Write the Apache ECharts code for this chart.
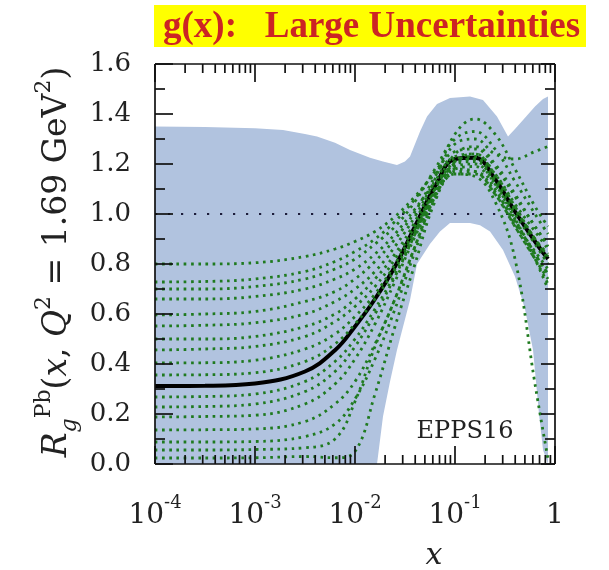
<!DOCTYPE html>
<html>
<head>
<meta charset="utf-8">
<script src="https://cdn.jsdelivr.net/npm/echarts@6/dist/echarts.min.js"></script>
<style>html,body{margin:0;padding:0;background:#fff;}#c{width:609px;height:570px;}</style>
</head>
<body>
<div id="c"></div>
<script>
// ---------- data ----------
const titleText = 'g(x):   Large Uncertainties';
const labelText = 'EPPS16';
const xTickValues = [1e-4, 1e-3, 1e-2, 1e-1, 1];
const xTickBase = ['10', '10', '10', '10', '1'];
const xTickExp = ['-4', '-3', '-2', '-1', ''];
const xMinorTicks = [2e-4,3e-4,4e-4,5e-4,6e-4,7e-4,8e-4,9e-4,
                     2e-3,3e-3,4e-3,5e-3,6e-3,7e-3,8e-3,9e-3,
                     2e-2,3e-2,4e-2,5e-2,6e-2,7e-2,8e-2,9e-2,
                     0.2,0.3,0.4,0.5,0.6,0.7,0.8,0.9];
const yTickValues = [0, 0.2, 0.4, 0.6, 0.8, 1.0, 1.2, 1.4, 1.6];
const yTickLabels = ['0.0','0.2','0.4','0.6','0.8','1.0','1.2','1.4','1.6'];
const yMinorTicks = [0.1, 0.3, 0.5, 0.7, 0.9, 1.1, 1.3, 1.5];

// uncertainty band
const bandUpperX = [1e-4,3.16e-4,1e-3,1.905e-3,3.16e-3,4.17e-3,6.31e-3,8.91e-3,1.413e-2,1.905e-2,2.63e-2,3.16e-2,3.55e-2,4.47e-2,5.25e-2,6.61e-2,8.91e-2,0.1413,0.1905,0.263,0.339,0.398,0.479,0.631,0.759,0.851];
const bandUpperY = [1.350,1.348,1.343,1.336,1.320,1.310,1.285,1.256,1.225,1.210,1.196,1.210,1.230,1.330,1.390,1.440,1.464,1.470,1.456,1.390,1.310,1.340,1.376,1.430,1.460,1.470];
const bandLowerX = [1e-4,1.66e-2,1.905e-2,2.24e-2,2.63e-2,3.55e-2,4.17e-2,5.62e-2,7.08e-2,8.91e-2,0.1413,0.178,0.224,0.302,0.398,0.501,0.603,0.692,0.759,0.851];
const bandLowerY = [0,0,0.19,0.33,0.456,0.656,0.80,0.88,0.93,0.964,0.964,0.955,0.93,0.856,0.75,0.62,0.456,0.20,0.056,0];

// curves sampled at these x
const knotX = [1e-4,3.16e-4,1e-3,3.16e-3,6.31e-3,1e-2,1.585e-2,2.512e-2,3.981e-2,6.31e-2,0.1,0.1585,0.2512,0.3981,0.631,0.851];
const central = [0.312,0.313,0.322,0.370,0.455,0.550,0.660,0.790,0.950,1.110,1.220,1.225,1.140,1.010,0.890,0.820];
const e1  = [0.80,0.80,0.805,0.83,0.86,0.89,0.93,0.99,1.07,1.16,1.22,1.22,1.13,1.00,0.88,0.80];
const e2  = [0.728,0.73,0.74,0.77,0.81,0.85,0.90,0.97,1.06,1.17,1.25,1.26,1.19,1.07,0.95,0.87];
const e3  = [0.70,0.70,0.71,0.74,0.78,0.82,0.88,0.95,1.05,1.18,1.30,1.33,1.26,1.13,1.00,0.92];
const e4  = [0.66,0.66,0.67,0.70,0.74,0.78,0.84,0.92,1.02,1.12,1.18,1.17,1.08,0.95,0.82,0.74];
const e5  = [0.596,0.60,0.61,0.65,0.69,0.74,0.81,0.90,1.01,1.15,1.28,1.30,1.24,1.22,1.25,1.27];
const e6  = [0.552,0.555,0.565,0.60,0.65,0.70,0.77,0.87,0.99,1.13,1.23,1.24,1.15,1.02,0.90,0.82];
const e7  = [0.50,0.50,0.51,0.55,0.60,0.66,0.74,0.84,0.97,1.14,1.32,1.38,1.32,1.18,1.03,0.95];
const e8  = [0.456,0.46,0.47,0.51,0.57,0.63,0.71,0.82,0.95,1.09,1.19,1.20,1.12,0.98,0.84,0.76];
const e9  = [0.404,0.405,0.415,0.46,0.52,0.59,0.68,0.80,0.94,1.10,1.21,1.23,1.16,1.04,0.93,0.86];
const e10 = [0.356,0.357,0.365,0.41,0.48,0.56,0.66,0.78,0.93,1.08,1.16,1.16,1.08,0.95,0.82,0.72];
const e11 = [0.268,0.27,0.28,0.33,0.41,0.50,0.62,0.76,0.92,1.08,1.20,1.22,1.14,1.02,0.90,0.84];
const e12 = [0.228,0.23,0.24,0.29,0.37,0.47,0.60,0.75,0.92,1.10,1.24,1.27,1.20,1.08,0.95,0.88];
const e13 = [0.188,0.19,0.195,0.24,0.32,0.42,0.56,0.73,0.91,1.07,1.17,1.17,1.09,0.97,0.84,0.76];
const e14 = [0.136,0.137,0.14,0.17,0.24,0.33,0.48,0.66,0.87,1.08,1.20,1.21,1.12,0.98,0.82,0.70];
const e15 = [0.088,0.088,0.09,0.11,0.16,0.26,0.42,0.62,0.85,1.06,1.16,1.15,1.05,0.82,0.32,0.02];
const e16 = [0.056,0.056,0.058,0.065,0.10,0.25,0.47,0.66,0.87,1.07,1.21,1.24,1.16,1.03,0.90,0.83];
const e17 = [0.024,0.024,0.025,0.03,0.025,0.05,0.28,0.55,0.80,1.05,1.18,1.19,1.10,0.96,0.85,0.78];
const errorSets = [e1,e2,e3,e4,e5,e6,e7,e8,e9,e10,e11,e12,e13,e14,e15,e16,e17];
const refLineX = [1e-4, 1];
const refLineY = [1, 1];

// ---------- chart ----------
const X_MIN = 1e-4, X_MAX = 1, Y_MIN = 0, Y_MAX = 1.6;
const X_MID = 1e-2, Y_MID = 0.8;
const AX = '#111111';
const serif = 'DejaVu Serif';
const chart = echarts.init(document.getElementById('c'), null, {renderer: 'canvas'});

function seg(x1, y1, x2, y2) {
  return {type: 'line', shape: {x1: x1, y1: y1, x2: x2, y2: y2}, style: {stroke: AX, lineWidth: 1.7}};
}

const series = [];
// band polygon
series.push({
  type: 'custom', z: 1, silent: true,
  data: [[X_MID, Y_MID]],
  renderItem: function (params, api) {
    const pts = [];
    for (let i = 0; i < bandUpperX.length; i++) pts.push(api.coord([bandUpperX[i], bandUpperY[i]]));
    for (let i = bandLowerX.length - 1; i >= 0; i--) pts.push(api.coord([bandLowerX[i], bandLowerY[i]]));
    return {type: 'polygon', shape: {points: pts}, style: {fill: '#B1C3DF', stroke: null}};
  }
});
// reference line at 1.0
series.push({
  type: 'line', z: 2, symbol: 'none', silent: true,
  data: refLineX.map((x, i) => [x, refLineY[i]]),
  lineStyle: {color: '#1c1c3a', width: 2.2, type: [2.2, 10.8], cap: 'butt'}
});
// central
series.push({
  type: 'line', z: 3, symbol: 'none', smooth: 0.4, silent: true,
  data: knotX.map((x, i) => [x, central[i]]),
  lineStyle: {color: '#000', width: 4}
});
// error sets
errorSets.forEach(function (arr) {
  series.push({
    type: 'line', z: 4, symbol: 'none', smooth: 0.4, silent: true,
    data: knotX.map((x, i) => [x, arr[i]]),
    lineStyle: {color: '#1f7a1f', width: 2.8, type: [2.6, 4.6], cap: 'butt'}
  });
});
// frame with ticks (positions from the axis scales)
series.push({
  type: 'custom', z: 30, silent: true,
  data: [[X_MID, Y_MID]],
  renderItem: function (params, api) {
    const bl = api.coord([X_MIN, Y_MIN]), tr = api.coord([X_MAX, Y_MAX]);
    const kids = [
      seg(bl[0], bl[1], tr[0], bl[1]), seg(bl[0], tr[1], tr[0], tr[1]),
      seg(bl[0], bl[1], bl[0], tr[1]), seg(tr[0], bl[1], tr[0], tr[1])
    ];
    function xTick(v, len) {
      const px = api.coord([v, Y_MIN])[0];
      kids.push(seg(px, bl[1], px, bl[1] - len));
      kids.push(seg(px, tr[1], px, tr[1] + len));
    }
    function yTick(v, lenL, lenR) {
      const py = api.coord([X_MIN, v])[1];
      kids.push(seg(bl[0], py, bl[0] + lenL, py));
      kids.push(seg(tr[0], py, tr[0] - lenR, py));
    }
    xTickValues.forEach(v => xTick(v, 18));
    xMinorTicks.forEach(v => xTick(v, 9));
    yTickValues.forEach(v => yTick(v, 18, 14));
    yMinorTicks.forEach(v => yTick(v, 10, 10));
    return {type: 'group', children: kids};
  }
});

const option = {
  animation: false,
  backgroundColor: '#fff',
  grid: {left: 155, top: 64, width: 400, height: 400},
  xAxis: {
    type: 'log', logBase: 10, min: X_MIN, max: X_MAX,
    axisLine: {show: false}, axisTick: {show: false}, splitLine: {show: false},
    axisLabel: {
      show: true, margin: 30, showMinLabel: true, showMaxLabel: true,
      formatter: function (v) {
        let idx = 0, best = Infinity;
        xTickValues.forEach((t, i) => { const d = Math.abs(Math.log10(t) - Math.log10(v)); if (d < best) { best = d; idx = i; } });
        return xTickExp[idx] ? '{a|' + xTickBase[idx] + '}{b|' + xTickExp[idx] + '}' : '{a|' + xTickBase[idx] + '}';
      },
      rich: {
        a: {fontFamily: serif, fontSize: 28, lineHeight: 44, color: '#222', verticalAlign: 'middle'},
        b: {fontFamily: serif, fontSize: 18, lineHeight: 18, color: '#222', verticalAlign: 'top'}
      }
    }
  },
  yAxis: {
    type: 'value', min: Y_MIN, max: Y_MAX, interval: 0.2,
    axisLine: {show: false}, axisTick: {show: false}, splitLine: {show: false},
    axisLabel: {
      margin: 24, fontFamily: serif, fontSize: 26, color: '#222',
      formatter: function (v) { return yTickLabels[Math.round(v / 0.2)]; }
    }
  },
  series: series,
  graphic: [
    {type: 'rect', left: 154, top: 5, shape: {width: 432, height: 42}, style: {fill: '#FFFF00'}, z: 50},
    {type: 'text', x: 163, y: 27, z: 51,
     style: {text: titleText, fontFamily: 'Liberation Serif', fontWeight: 'bold', fontSize: 37, fill: '#CC2424', verticalAlign: 'middle', align: 'left'}},
    {type: 'text', x: 465, y: 432, z: 51,
     style: {text: labelText, fontFamily: serif, fontSize: 24, fill: '#222', align: 'center', verticalAlign: 'middle'}},
    {type: 'text', x: 434, y: 556, z: 51,
     style: {text: 'x', fontFamily: serif, fontStyle: 'italic', fontSize: 30, fill: '#222', align: 'center', verticalAlign: 'middle'}},
    {type: 'text', x: 57, y: 262, rotation: Math.PI / 2, z: 51,
     style: {
       text: '{i|R}{sb|g}{sp|Pb}{n|(}{i|x}{n|, }{i|Q}{sp|2}{n| = 1.69 GeV}{sp|2}{n|)}',
       align: 'center', verticalAlign: 'middle',
       rich: {
         n: {fontFamily: serif, fontSize: 33, lineHeight: 48, fill: '#222', verticalAlign: 'middle'},
         i: {fontFamily: serif, fontStyle: 'italic', fontSize: 33, lineHeight: 48, fill: '#222', verticalAlign: 'middle'},
         sp: {fontFamily: serif, fontSize: 22, lineHeight: 22, fill: '#222', verticalAlign: 'top'},
         sb: {fontFamily: serif, fontStyle: 'italic', fontSize: 22, lineHeight: 22, fill: '#222', verticalAlign: 'bottom'}
       }
     }}
  ]
};
chart.setOption(option);
</script>
</body>
</html>
